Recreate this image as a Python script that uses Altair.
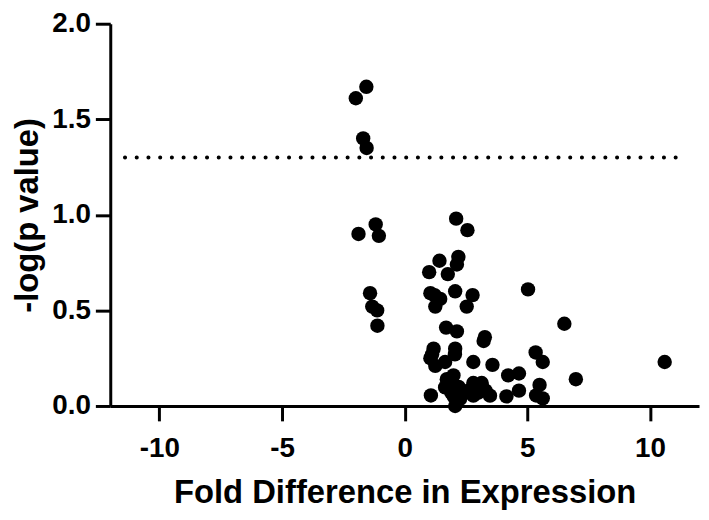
import altair as alt
import pandas as pd

fold = [-1.99, -1.56, -1.69, -1.55,
        -1.88, -1.18, -1.05, -1.41, -1.32, -1.12, -1.11,
        2.10, 2.56, 1.42, 2.19, 2.13, 1.00, 1.76,
        1.05, 1.22, 1.45, 2.06, 2.77, 1.25, 2.53,
        1.69, 2.13, 3.22, 3.27, 1.18, 2.06,
        1.05, 1.25, 1.12, 2.05, 2.80, 1.65,
        5.03, 6.51, 5.34, 5.63, 3.58, 10.60, 6.98,
        4.22, 4.66, 5.50, 4.66, 4.15, 5.36, 5.63,
        1.07, 1.72, 1.99, 1.93, 1.65, 2.06, 2.40, 2.80, 3.14, 3.48,
        2.80, 2.26, 3.14, 2.00, 2.60, 3.00, 3.30, 2.20, 1.90]
neglogp = [1.61, 1.67, 1.40, 1.35,
           0.90, 0.95, 0.89, 0.59, 0.52, 0.50, 0.42,
           0.98, 0.92, 0.76, 0.78, 0.74, 0.70, 0.69,
           0.59, 0.58, 0.56, 0.60, 0.58, 0.52, 0.52,
           0.41, 0.39, 0.34, 0.36, 0.30, 0.30,
           0.25, 0.21, 0.27, 0.27, 0.23, 0.23,
           0.61, 0.43, 0.28, 0.23, 0.215, 0.23, 0.14,
           0.16, 0.17, 0.11, 0.08, 0.05, 0.055, 0.04,
           0.055, 0.14, 0.16, 0.105, 0.097, 0.0, 0.07, 0.12, 0.12, 0.054,
           0.054, 0.037, 0.105, 0.05, 0.08, 0.07, 0.08, 0.10, 0.07]

x_ticks = [-10, -5, 0, 5, 10]
y_ticks = [0.0, 0.5, 1.0, 1.5, 2.0]
threshold = [1.3]
threshold_x = [-11.4]
threshold_x2 = [11.2]

df = pd.DataFrame({"fold": fold, "p": neglogp})
thr = pd.DataFrame({"y": threshold, "x": threshold_x, "x2": threshold_x2})

FONT = "Liberation Sans"

xscale = alt.Scale(domain=[-12, 12], nice=False, zero=False)
yscale = alt.Scale(domain=[0, 2], nice=False)

points = alt.Chart(df).mark_circle(size=210, color="black", opacity=1).encode(
    x=alt.X("fold:Q", scale=xscale,
            axis=alt.Axis(title="Fold Difference in Expression", values=x_ticks,
                          labelExpr="'' + datum.value", grid=False)),
    y=alt.Y("p:Q", scale=yscale,
            axis=alt.Axis(title="-log(p value)", values=y_ticks, format=".1f",
                          grid=False)),
)

rule = alt.Chart(thr).mark_rule(color="black", strokeWidth=4, strokeDash=[0.1, 11.7],
                                strokeCap="round").encode(
    x=alt.X("x:Q", scale=xscale),
    x2="x2:Q",
    y=alt.Y("y:Q", scale=yscale),
)

chart = (rule + points).properties(
    width=593, height=385,
    autosize=alt.AutoSizeParams(type="none"),
    padding={"left": 103, "top": 14, "right": 2, "bottom": 110},
).configure_view(stroke=None).configure_axis(
    domainColor="black", domainWidth=3, tickColor="black", tickWidth=3, tickSize=15,
    labelFont=FONT, labelFontWeight="bold", labelFontSize=28, labelColor="black",
    titleFont=FONT, titleFontWeight="bold", titleColor="black",
).configure_axisX(titlePadding=14, labelPadding=14, titleFontSize=33).configure_axisY(
    titlePadding=7, labelPadding=5, titleFontSize=33)

chart.save("out.html", embed_options={"renderer": "svg", "actions": False})
